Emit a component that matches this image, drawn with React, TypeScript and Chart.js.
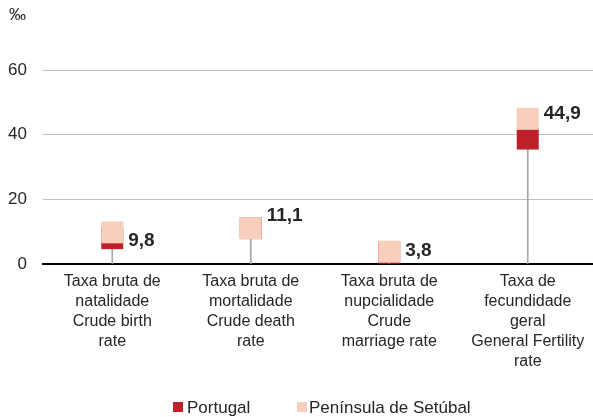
import React, { useEffect, useRef } from "react";
import { Chart, registerables } from "chart.js";

Chart.register(...registerables);

const categories: string[][] = [
  ["Taxa bruta de", "natalidade", "Crude birth", "rate"],
  ["Taxa bruta de", "mortalidade", "Crude death", "rate"],
  ["Taxa bruta de", "nupcialidade", "Crude", "marriage rate"],
  ["Taxa de", "fecundidade", "geral", "General Fertility", "rate"],
];
const portugal = [8.0, 11.1, 3.5, 38.8];
const setubal = [9.8, 11.1, 3.8, 44.9];
const yTicks = [0, 20, 40, 60];

const labelNudge = [13.5, -7.5, 4, 0];
const FONT = "'Liberation Sans', Arial, sans-serif";
const RED = "#c0202a";
const PINK = "#f8cfbd";
const TEXT = "#262626";

const valueLabels = {
  id: "valueLabels",
  afterDatasetsDraw(chart: any) {
    const { ctx } = chart;
    const xs = chart.scales.x;
    const ys = chart.scales.y;
    ctx.save();
    ctx.font = `bold 19px ${FONT}`;
    ctx.fillStyle = TEXT;
    ctx.textAlign = "left";
    ctx.textBaseline = "alphabetic";
    setubal.forEach((v, i) => {
      const x = xs.getPixelForValue(i) + 16;
      const y = ys.getPixelForValue(v) + labelNudge[i];
      ctx.fillText(v.toFixed(1).replace(".", ","), x, y);
    });
    ctx.font = `17px ${FONT}`;
    ctx.textBaseline = "middle";
    ctx.fillText("\u2030", 9, 15);
    ctx.restore();
  },
};

export default function App() {
  const ref = useRef<HTMLCanvasElement>(null);
  useEffect(() => {
    if (!ref.current) return;
    const drop = portugal.map((p, i) => Math.max(p, setubal[i]));
    const chart = new Chart(ref.current, {
      type: "bar",
      data: {
        labels: categories as any,
        datasets: [
          {
            type: "line",
            label: "Península de Setúbal",
            data: setubal,
            showLine: false,
            pointStyle: "rect",
            pointRadius: 15.56,
            pointHoverRadius: 15.56,
            pointBackgroundColor: PINK,
            pointBorderWidth: 0,
            clip: false,
            order: 0,
          } as any,
          {
            type: "line",
            label: "Portugal",
            data: portugal,
            showLine: false,
            pointStyle: "rect",
            pointRadius: 15.56,
            pointHoverRadius: 15.56,
            pointBackgroundColor: RED,
            pointBorderWidth: 0,
            clip: false,
            order: 1,
          } as any,
          {
            type: "bar",
            label: "drop",
            data: drop,
            backgroundColor: "#a6a6a6",
            barThickness: 1,
            order: 2,
          },
        ],
      },
      options: {
        responsive: false,
        animation: false,
        events: [],
        layout: { autoPadding: false, padding: { top: 70, left: 0, right: 0, bottom: 0 } },
        plugins: {
          legend: { display: false },
          tooltip: { enabled: false },
        },
        scales: {
          x: {
            offset: true,
            grid: { display: false, drawTicks: false },
            border: { display: true, color: "#000", width: 2 },
            ticks: {
              color: TEXT,
              font: { family: FONT, size: 16, lineHeight: 1.25 },
              padding: 8,
              maxRotation: 0,
              autoSkip: false,
            },
            afterFit: (s: any) => {
              s.height = 417 - 264;
              s.paddingLeft = 0;
              s.paddingRight = 0;
            },
          },
          y: {
            min: 0,
            max: 60,
            afterBuildTicks: (s: any) => {
              s.ticks = yTicks.map((v) => ({ value: v }));
            },
            grid: { color: "#c0c0c0", lineWidth: 1, drawTicks: false },
            border: { display: false },
            ticks: {
              color: TEXT,
              font: { family: FONT, size: 17 },
              padding: 16,
            },
            afterFit: (s: any) => {
              s.width = 43;
            },
          },
        },
      },
      plugins: [valueLabels],
    });
    return () => chart.destroy();
  }, []);

  return (
    <div style={{ position: "fixed", left: 0, top: 0, width: 597, height: 417, background: "#fff" }}>
      <canvas ref={ref} width={597} height={417} style={{ display: "block" }} />
      <div style={{ position: "absolute", left: 173, top: 402, width: 10, height: 10, background: RED }} />
      <div style={{ position: "absolute", left: 187, top: 397, fontFamily: FONT, fontSize: 17, lineHeight: "22px", color: TEXT, whiteSpace: "nowrap" }}>Portugal</div>
      <div style={{ position: "absolute", left: 297, top: 402, width: 10, height: 10, background: PINK }} />
      <div style={{ position: "absolute", left: 309, top: 397, fontFamily: FONT, fontSize: 17, lineHeight: "22px", color: TEXT, whiteSpace: "nowrap" }}>Península de Setúbal</div>
    </div>
  );
}
